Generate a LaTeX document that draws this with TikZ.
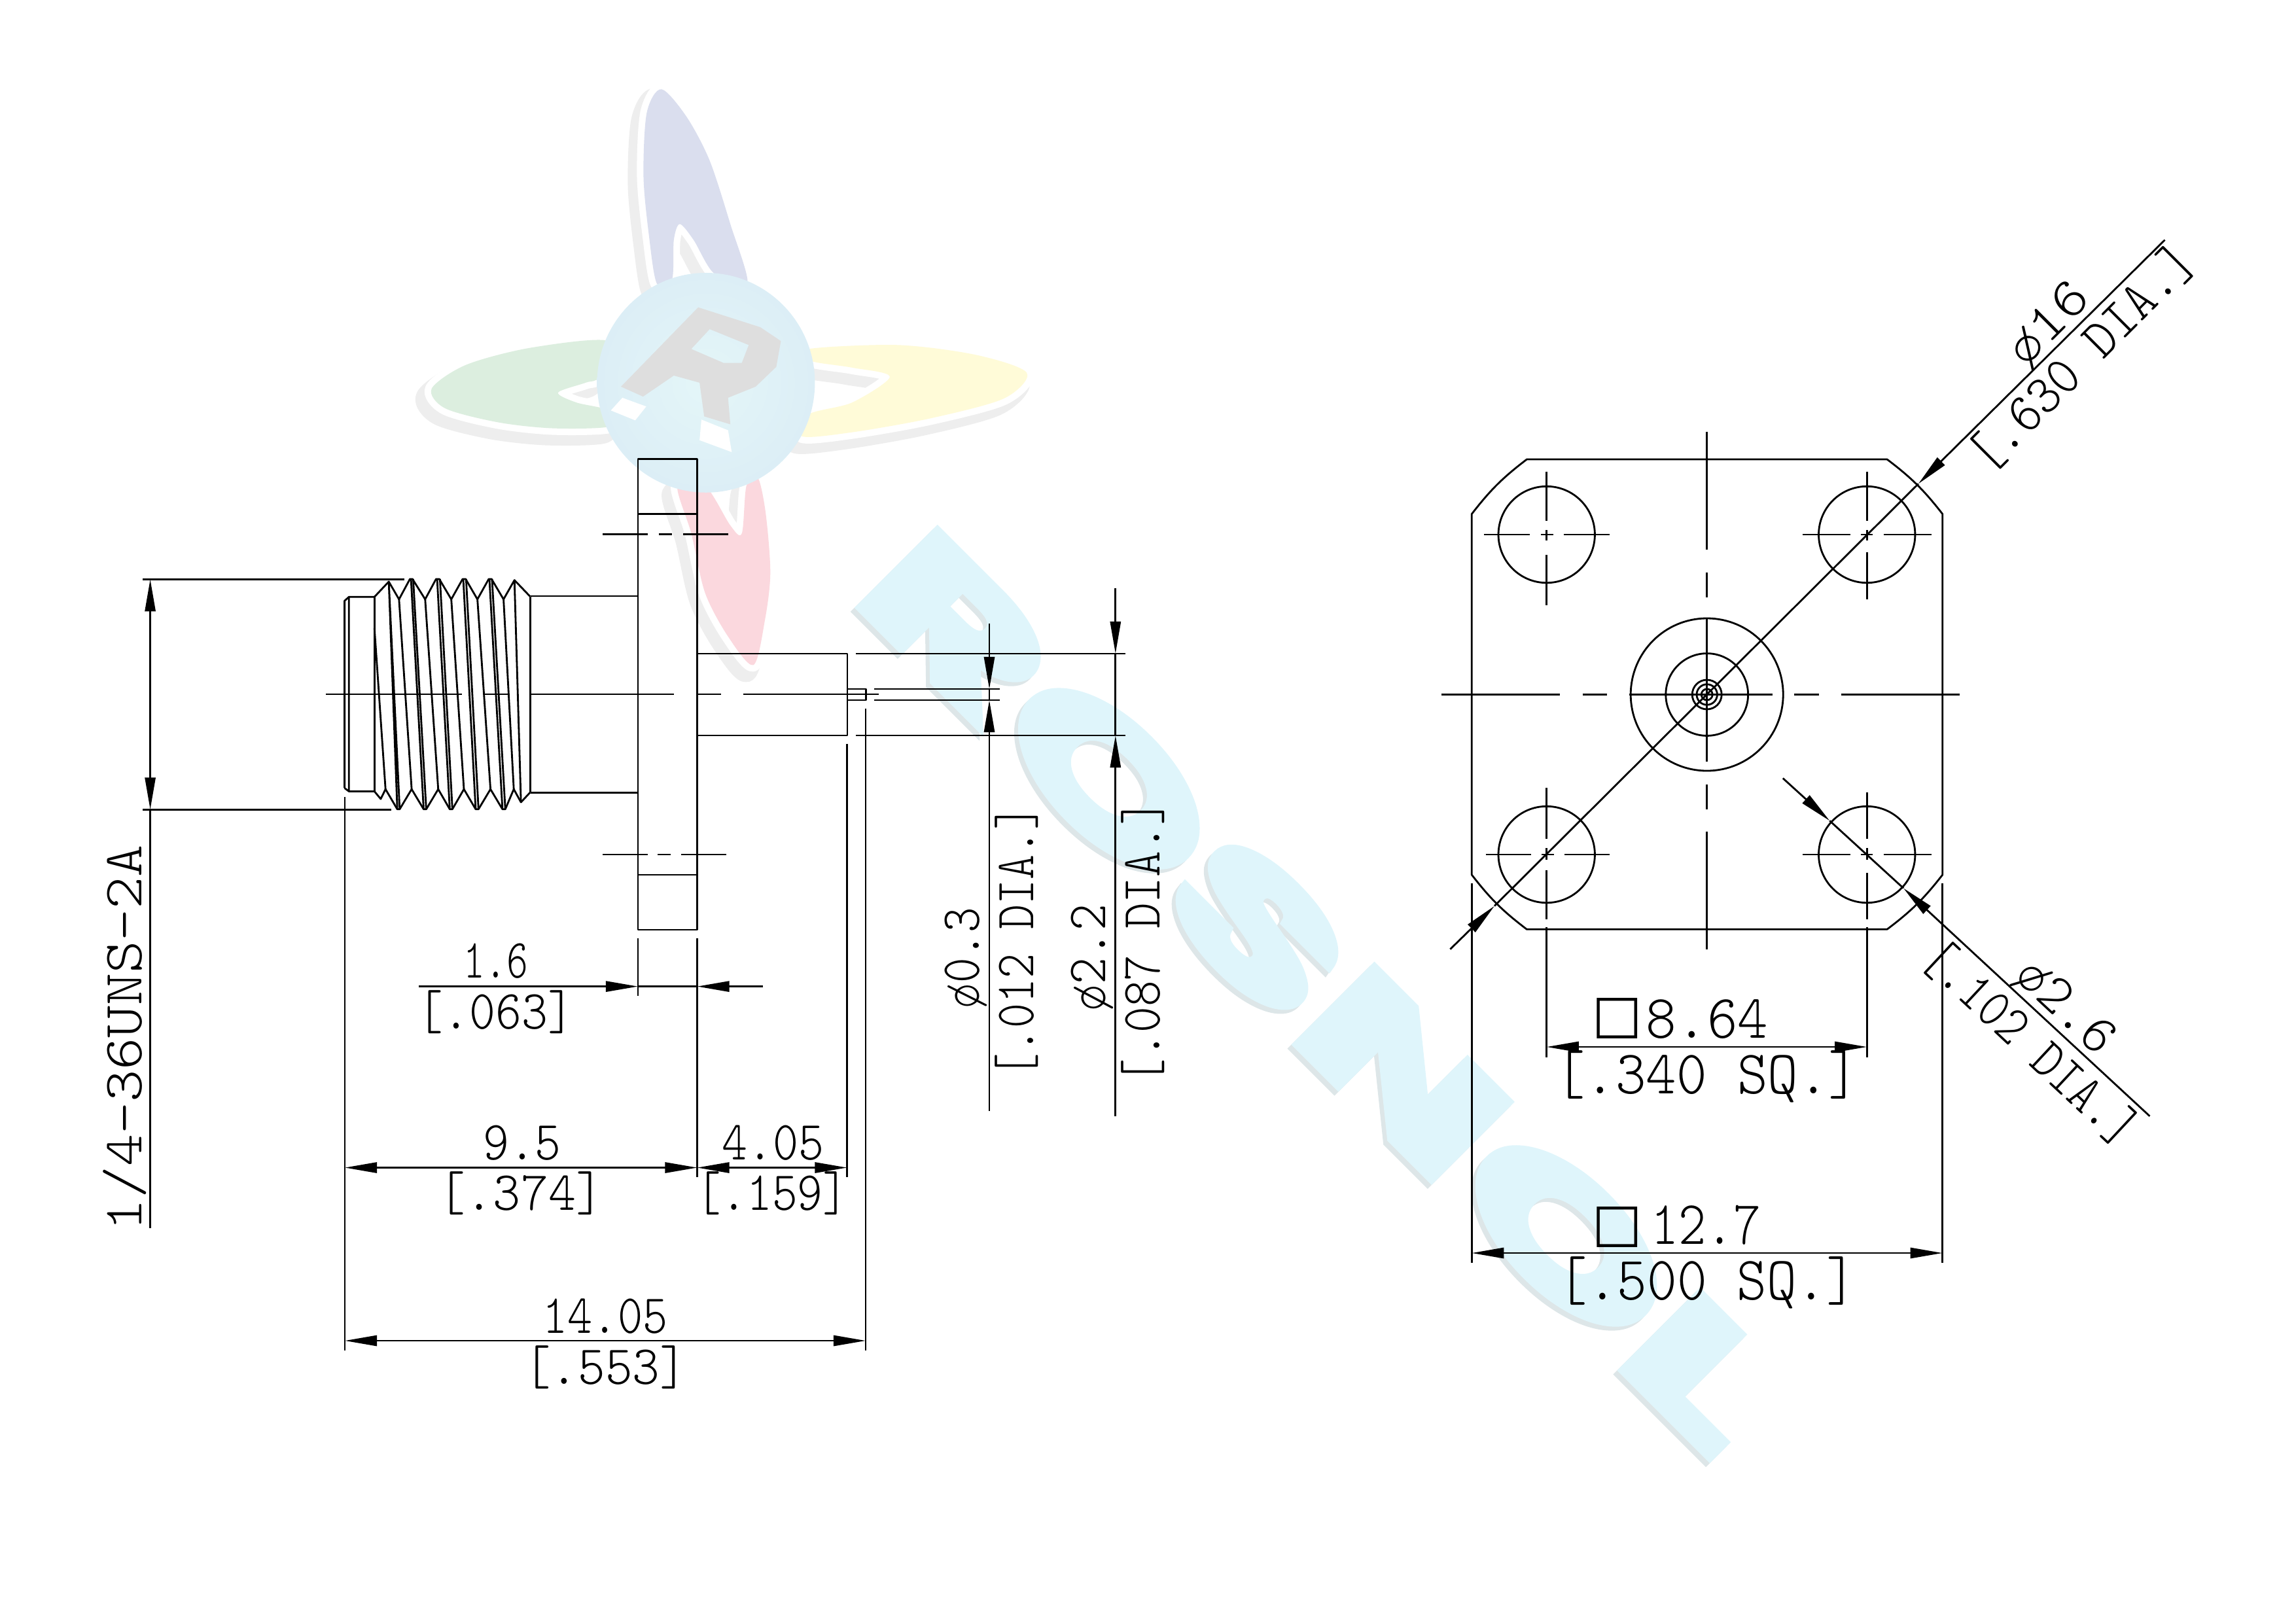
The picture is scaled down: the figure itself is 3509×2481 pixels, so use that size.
\documentclass[tikz,border=0pt]{standalone}
\usepackage{fontspec}
\usetikzlibrary{arrows.meta}
\newfontfamily\cadfont{lmmonolt10-regular.otf}
\newfontfamily\boxfont{DejaVu Sans}
\newfontfamily\markfont[LetterSpace=3,BoldFeatures={FakeBold=6}]{Poppins}
\definecolor{petalblue}{HTML}{DADEEE}
\definecolor{petalgreen}{HTML}{DCEEDF}
\definecolor{petalyellow}{HTML}{FFFBD8}
\definecolor{petalred}{HTML}{FBD8DE}
\definecolor{halogrey}{HTML}{EEEEEE}
\definecolor{ballin}{HTML}{E4F6F8}
\definecolor{ballout}{HTML}{DCEEF6}
\definecolor{lettergrey}{HTML}{DEDEDE}
\definecolor{markcyan}{HTML}{DFF5FB}
\definecolor{markshade}{HTML}{DDE6E8}
\tikzset{
  part/.style={draw=black,line width=0.8pt,line join=round},
  dimline/.style={draw=black,line width=0.8pt},
  dimtext/.style={anchor=base,inner sep=0pt,text=black,font=\cadfont\fontsize{24}{24}\selectfont},
  sqbox/.style={anchor=center,inner sep=0pt,text=black,font=\boxfont\fontsize{23}{23}\selectfont},
  brandmark/.style={anchor=base west,inner sep=0pt,rotate=-45,xscale=1.87,font=\markfont\bfseries\fontsize{67}{67}\selectfont}
}
\newcommand{\petalpath}{
  plot[smooth cycle,tension=.5] coordinates {(553,120) (585,60) (640,130) (690,240) (735,400) (772,550) (700,525) (655,440) (625,400) (612,440) (608,540) (575,550) (558,430) (546,280)}
  plot[smooth cycle,tension=.5] coordinates {(470,695) (300,712) (160,755) (85,815) (115,865) (230,900) (350,915) (475,910) (470,870) (400,850) (360,825) (420,800) (450,785)}
  plot[smooth cycle,tension=.5] coordinates {(905,715) (1100,705) (1270,730) (1380,775) (1330,840) (1170,890) (1000,925) (890,935) (905,880) (1000,850) (1082,785) (1000,762) (910,745)}
  plot[smooth cycle,tension=.5] coordinates {(620,1060) (650,1180) (680,1330) (730,1440) (785,1512) (810,1400) (822,1280) (812,1130) (795,1040) (770,1060) (760,1180) (735,1160) (680,1060)}
}
\begin{document}
\begin{tikzpicture}[x=0.01cm,y=-0.01cm,>={Triangle[length=0.49cm,width=0.16cm,sep=0pt]}]
\useasboundingbox (0,0) rectangle (3509,2481);

\begin{scope}[shift={(600,100)},x=0.007015cm,y=-0.006059cm]
\draw [halogrey,line width=0.28cm,line join=round,xshift=-0.1cm,yshift=-0.12cm] \petalpath;
\draw [white,line width=0.2cm,line join=round] \petalpath;
\fill [petalblue] plot[smooth cycle,tension=.5] coordinates {(553,120) (585,60) (640,130) (690,240) (735,400) (772,550) (700,525) (655,440) (625,400) (612,440) (608,540) (575,550) (558,430) (546,280)};
\fill [petalgreen] plot[smooth cycle,tension=.5] coordinates {(470,695) (300,712) (160,755) (85,815) (115,865) (230,900) (350,915) (475,910) (470,870) (400,850) (360,825) (420,800) (450,785)};
\fill [petalyellow] plot[smooth cycle,tension=.5] coordinates {(905,715) (1100,705) (1270,730) (1380,775) (1330,840) (1170,890) (1000,925) (890,935) (905,880) (1000,850) (1082,785) (1000,762) (910,745)};
\fill [petalred] plot[smooth cycle,tension=.5] coordinates {(620,1060) (650,1180) (680,1330) (730,1440) (785,1512) (810,1400) (822,1280) (812,1130) (795,1040) (770,1060) (760,1180) (735,1160) (680,1060)};
\shade [inner color=ballin,outer color=ballout] (682,800) circle [x radius=237,y radius=277];
\fill [white] (500,838) -- (552,860) -- (528,895) -- (475,870) -- cycle;
\fill [white] (672,893) -- (730,920) -- (738,975) -- (668,945) -- cycle;
\fill [lettergrey,even odd rule] (665,610) -- (800,660) -- (845,695) -- (835,760) -- (790,810) -- (730,838) -- (735,905) -- (678,885) -- (668,800) -- (612,782) -- (545,835) -- (497,810) -- cycle (650,715) -- (690,665) -- (775,705) -- (760,750) -- (720,750) -- cycle;
\end{scope}

\node [brandmark,text=markshade] (markback) at (1294,919) {ROSNOL};
\node [brandmark,text=markcyan] (mark) at (1300,913) {ROSNOL};

\begin{scope}[shift={(500,860)},x=0.003333cm,y=-0.003333cm]
\draw [part] (80,1035) -- (80,175) -- (100,157) -- (217,157) (100,157) -- (100,1050) (80,1035) -- (100,1050) -- (217,1050);
\draw [part] (217,157) -- (283,87) -- (330,168) -- (380,75) -- (392,75) -- (450,168) -- (500,75) -- (515,75) -- (570,168) -- (622,75) -- (636,75) -- (690,168) -- (742,75) -- (755,75) -- (810,168) -- (860,80) -- (932,155);
\draw [part] (217,1050) -- (246,1085) -- (268,1040) -- (322,1132) -- (333,1132) -- (388,1040) -- (443,1132) -- (455,1132) -- (510,1040) -- (563,1132) -- (575,1132) -- (628,1040) -- (682,1132) -- (695,1132) -- (750,1040) -- (805,1132) -- (818,1132) -- (857,1040) -- (890,1100) -- (932,1055);
\draw [part] (217,157) -- (217,1050) (932,155) -- (932,1055);
\draw [part] (217,300) -- (268,1040) (283,87) -- (322,1132) (283,87) -- (333,1132) (330,168) -- (388,1040);
\draw [part] (385,75) -- (443,1132) (395,75) -- (455,1132) (450,168) -- (510,1040);
\draw [part] (505,75) -- (563,1132) (518,75) -- (575,1132) (570,168) -- (628,1040);
\draw [part] (625,75) -- (682,1132) (638,75) -- (695,1132) (690,168) -- (750,1040);
\draw [part] (745,75) -- (805,1132) (757,75) -- (818,1132) (810,168) -- (857,1040) (860,80) -- (890,1100);
\end{scope}

\draw [part] (811,911) -- (975,911) (811,1211.6) -- (975,1211.6);
\draw [part] (975,701.4) rectangle (1065.5,1421);
\draw [part] (975,785.6) -- (1065.5,785.6) (975,1337) -- (1065.5,1337);
\draw [part] (921,816.7) -- (990,816.7) (1007,816.7) -- (1027,816.7) (1044,816.7) -- (1112.5,816.7);
\draw [part] (921,1306) -- (990,1306) (1005,1306) -- (1025,1306) (1041,1306) -- (1110,1306);
\draw [part] (498,1061) -- (706,1061) (740,1061) -- (777,1061) (811,1061) -- (1030,1061) (1064,1061) -- (1102,1061) (1135.5,1061) -- (1343,1061);
\draw [part] (1065.5,999) -- (1295,999) -- (1295,1124) -- (1065.5,1124);
\draw [part] (1295,1053) -- (1323.6,1053) -- (1323.6,1070) -- (1295,1070);

\draw [dimline] (1308,999) -- (1720,999) (1308,1124) -- (1720,1124);
\draw [dimline] (1336,1053) -- (1527.6,1053) (1336,1070) -- (1527.6,1070);
\draw [dimline,->] (1512,952.7) -- (1512,1053);
\draw [dimline] (1512,1053) -- (1512,1070);
\draw [dimline,->] (1512,1698) -- (1512,1070);
\draw [dimline,->] (1704.8,899) -- (1704.8,999);
\draw [dimline] (1704.8,999) -- (1704.8,1124);
\draw [dimline,->] (1704.8,1706) -- (1704.8,1124);

\draw [dimline] (218,885.3) -- (618,885.3) (218,1237.3) -- (598,1237.3);
\draw [dimline,<->] (229.6,885.3) -- (229.6,1237.3);
\draw [dimline] (229.6,1237.3) -- (229.6,1877);
\draw [dimline] (527,1218) -- (527,2064);
\draw [dimline] (975,1433.5) -- (975,1522);
\draw [dimline] (1065.5,1433.5) -- (1065.5,1799);
\draw [dimline] (1294.5,1136.7) -- (1294.5,1799);
\draw [dimline] (1323,1083) -- (1323,2064);
\draw [dimline,->] (640,1507.6) -- (975,1507.6);
\draw [dimline] (975,1507.6) -- (1065.5,1507.6);
\draw [dimline,->] (1166,1507.6) -- (1065.5,1507.6);
\draw [dimline,<->] (527,1784.5) -- (1065.5,1784.5);
\draw [dimline,<->] (1065.5,1784.5) -- (1294.5,1784.5);
\draw [dimline,<->] (527,2049) -- (1323,2049);

\node [dimtext,rotate=90,xscale=1.11] (threadlab) at (216,1586) {1/4-36UNS-2A};
\node [dimtext,xscale=.74] (flangemm) at (758,1494) {1.6};
\node [dimtext,xscale=.9] (flangein) at (757.5,1572) {[.063]};
\node [dimtext,xscale=.9] (bodymm) at (798,1772) {9.5};
\node [dimtext,xscale=.95] (bodyin) at (796,1849) {[.374]};
\node [dimtext,xscale=.88] (pinmm) at (1181.5,1772) {4.05};
\node [dimtext,xscale=.875] (pinin) at (1180,1849) {[.159]};
\node [dimtext,xscale=.86] (totalmm) at (925,2037) {14.05};
\node [dimtext,xscale=.94] (totalin) at (925,2115) {[.553]};
\node [dimtext,rotate=90,xscale=.87] (tipmm) at (1496.7,1464) {ø0.3};
\node [dimtext,rotate=90,xscale=.857] (tipin) at (1579,1439) {[.012 DIA.]};
\node [dimtext,rotate=90,xscale=.92] (pindiamm) at (1689,1463.5) {ø2.2};
\node [dimtext,rotate=90,xscale=.895] (pindiain) at (1772,1439.5) {[.087 DIA.]};

\draw [part] (2333.4,702) -- (2884,702) to[bend left=7.5] (2968.7,785.5) -- (2968.7,1337) to[bend left=7.5] (2884,1420.3) -- (2333.4,1420.3) to[bend left=7.5] (2249.3,1337) -- (2249.3,785.5) to[bend left=7.5] cycle;
\draw [part] (2363.7,817) circle [radius=73.7];
\draw [part] (2853.2,817) circle [radius=73.7];
\draw [part] (2363.7,1306) circle [radius=73.7];
\draw [part] (2853.2,1306) circle [radius=73.7];
\draw [part] (2608.7,1061.5) circle [radius=116.5];
\draw [part] (2608.7,1061.5) circle [radius=62.9];
\draw [part] (2608.7,1061.5) circle [radius=22.5];
\draw [part] (2608.7,1061.5) circle [radius=15.7];
\draw [part] (2608.7,1061.5) circle [radius=8.5];

\draw [part] (2202.7,1061.5) -- (2384.3,1061.5) (2418.5,1061.5) -- (2455.9,1061.5) (2490,1061.5) -- (2708.5,1061.5) (2742,1061.5) -- (2780,1061.5) (2813.7,1061.5) -- (2995.3,1061.5);
\draw [part] (2608.7,659.8) -- (2608.7,839.7) (2608.7,875) -- (2608.7,913) (2608.7,945.5) -- (2608.7,1164) (2608.7,1198.6) -- (2608.7,1236.6) (2608.7,1271) -- (2608.7,1451);
\draw [part] (2267.8,817) -- (2338,817) (2354.5,817) -- (2373.5,817) (2389.7,817) -- (2460,817);
\draw [part] (2363.7,720.5) -- (2363.7,796.4) (2363.7,810) -- (2363.7,826) (2363.7,848) -- (2363.7,925);
\draw [part] (2754.6,817) -- (2827.8,817) (2844,817) -- (2862.4,817) (2878.7,817) -- (2952.4,817);
\draw [part] (2853.2,720.5) -- (2853.2,796.4) (2853.2,810) -- (2853.2,826) (2853.2,844) -- (2853.2,915.6);
\draw [part] (2270.5,1306) -- (2340,1306) (2356,1306) -- (2374.5,1306) (2391,1306) -- (2460,1306);
\draw [part] (2363.7,1204) -- (2363.7,1281.5) (2363.7,1296) -- (2363.7,1314) (2363.7,1330) -- (2363.7,1404.6);
\draw [part] (2754.6,1306) -- (2827.8,1306) (2844,1306) -- (2862.4,1306) (2878.7,1306) -- (2952.4,1306);
\draw [part] (2853.2,1211) -- (2853.2,1281.5) (2853.2,1296) -- (2853.2,1314) (2853.2,1334) -- (2853.2,1404.6);

\draw [dimline,->] (3308.5,366.7) -- (2931.8,739.4);
\draw [dimline] (2931.8,739.4) -- (2284,1384.6);
\draw [dimline,->] (2216.3,1450.7) -- (2284,1384.6);
\draw [dimline,->] (2724.8,1189.4) -- (2796.3,1254.4);
\draw [dimline] (2796.3,1254.4) -- (2909,1357.4);
\draw [dimline,->] (3285.4,1705.8) -- (2909,1357.4);

\draw [dimline] (2363.7,1417) -- (2363.7,1615.6) (2853.2,1417) -- (2853.2,1615.6);
\draw [dimline] (2249.3,1350) -- (2249.3,1929.5) (2968.7,1350) -- (2968.7,1929.5);
\draw [dimline,<->] (2363.7,1600) -- (2853.2,1600);
\draw [dimline,<->] (2249.3,1915) -- (2968.7,1915);

\node [sqbox] (holesq) at (2471.3,1556.4) {□};
\node [dimtext,yscale=1.12,xscale=1.05] (holemm) at (2609,1586) {8.64};
\node [dimtext,yscale=1.12,xscale=1.05] (holein) at (2608.7,1671) {[.340 SQ.]};
\node [sqbox] (platesq) at (2471.3,1875.5) {□};
\node [dimtext,yscale=1.12,xscale=.95] (platemm) at (2607.7,1901) {12.7};
\node [dimtext,yscale=1.12,xscale=1.03] (platein) at (2608.7,1986) {[.500 SQ.]};
\node [dimtext,rotate=45,xscale=1.09] (cornermm) at (3146.4,511) {ø16};
\node [dimtext,rotate=45,xscale=.93] (cornerin) at (3200,565) {[.630 DIA.]};
\node [dimtext,rotate=-43,xscale=1] (drillmm) at (3141,1555) {ø2.6};
\node [dimtext,rotate=-43,xscale=.86] (drillin) at (3086,1613) {[.102 DIA.]};
\end{tikzpicture}
\end{document}
